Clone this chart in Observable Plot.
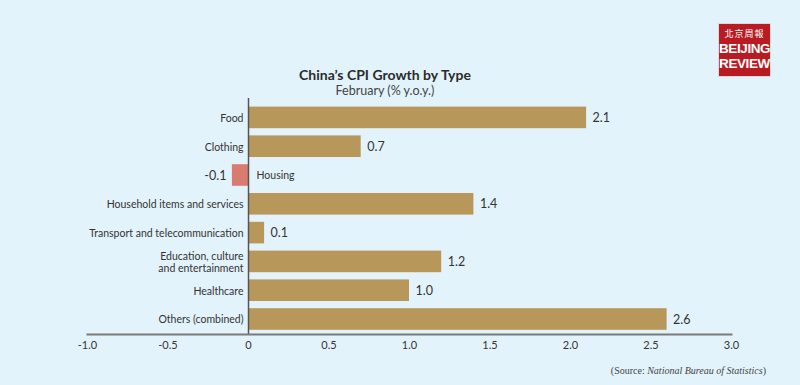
<!DOCTYPE html>
<html>
<head>
<meta charset="utf-8">
<script src="https://cdn.jsdelivr.net/npm/d3@7"></script>
<script src="https://cdn.jsdelivr.net/npm/@observablehq/plot@0.6"></script>
<style>
  html, body { margin: 0; padding: 0; background: #e3f3fb; }
  #wrap { position: relative; width: 800px; height: 385px; background: #e3f3fb; overflow: hidden; font-family: Lato, "Open Sans", sans-serif; }
  #title { position: absolute; left: 0; width: 770px; top: 67px; text-align: center; font: 700 14px Lato, "Open Sans", sans-serif; color: #2b2b2b; line-height: 15px; }
  #subtitle { position: absolute; left: 0; width: 770px; top: 84px; text-align: center; font: 400 12.5px Lato, "Open Sans", sans-serif; color: #444; line-height: 13px; }
  #source { position: absolute; right: 34px; top: 365px; font: 400 10px "Liberation Serif", serif; color: #444; }
  #logo { position: absolute; left: 719px; top: 24px; width: 51px; height: 52px; background: #b81c22; color: #fff; text-align: center; box-shadow: 0 0 0 1px #d9d9d9; }
  #logo .cn { font: 400 9px "Noto Sans CJK TC", sans-serif; margin-top: 4px; line-height: 11px; letter-spacing: 1px; }
  #logo .en { font: 700 13.5px "Liberation Sans Narrow", "Liberation Sans", sans-serif; line-height: 15px; letter-spacing: -0.4px; margin-top: 2px; }
  svg { position: absolute; left: 0; top: 0; }
</style>
</head>
<body>
<div id="wrap">
  <div id="chart"></div>
  <div id="title">China’s CPI Growth by Type</div>
  <div id="subtitle">February (% y.o.y.)</div>
  <div id="source">(Source: <i>National Bureau of Statistics</i>)</div>
  <div id="logo"><div class="cn">北京周報</div><div class="en">BEIJING<br>REVIEW</div></div>
</div>
<script>
const categories = ["Food", "Clothing", "Housing", "Household items and services", "Transport and telecommunication", "Education, culture\nand entertainment", "Healthcare", "Others (combined)"];
const values = [2.1, 0.7, -0.1, 1.4, 0.1, 1.2, 1.0, 2.6];
const xTicks = [-1.0, -0.5, 0, 0.5, 1.0, 1.5, 2.0, 2.5, 3.0];
const xTickLabels = ["-1.0", "-0.5", "0", "0.5", "1.0", "1.5", "2.0", "2.5", "3.0"];

const data = categories.map((c, i) => ({category: c, value: values[i]}));
const pos = data.filter(d => d.value >= 0);
const neg = data.filter(d => d.value < 0);

const chart = Plot.plot({
  width: 800,
  height: 385,
  marginLeft: 87,
  marginRight: 69,
  marginTop: 98,
  marginBottom: 51,
  style: {background: "transparent", fontFamily: "Lato, 'Open Sans', sans-serif", overflow: "visible"},
  x: {domain: [-1, 3], label: null},
  y: {domain: categories, range: [103, 333.4], round: false, paddingInner: 0.25, paddingOuter: 0.125, axis: null},
  marks: [
    Plot.barX(pos, {x: "value", y: "category", fill: "#b8975b"}),
    Plot.barX(neg, {x: "value", y: "category", fill: "#d97b6e"}),
    Plot.ruleX([0], {stroke: "#555", strokeWidth: 1.5}),
    Plot.frame({anchor: "bottom", stroke: "#7a7a7a", strokeWidth: 2}),
    Plot.axisX({ticks: xTicks, tickSize: 0, tickPadding: 7, fontSize: 11, fill: "#333", label: null, tickFormat: d => xTickLabels[xTicks.indexOf(d)]}),
    Plot.text(pos, {x: 0, y: "category", text: "category", textAnchor: "end", dx: -5, fontSize: 10.5, fill: "#333", lineHeight: 1.15}),
    Plot.text(neg, {x: 0, y: "category", text: "category", textAnchor: "start", dx: 8, fontSize: 10.5, fill: "#333"}),
    Plot.text(pos, {x: "value", y: "category", text: d => d.value.toFixed(1), textAnchor: "start", dx: 6, fontSize: 12.5, fill: "#333"}),
    Plot.text(neg, {x: "value", y: "category", text: d => d.value.toFixed(1), textAnchor: "end", dx: -6, fontSize: 12.5, fill: "#333"})
  ]
});
document.getElementById("chart").appendChild(chart);
</script>
</body>
</html>
